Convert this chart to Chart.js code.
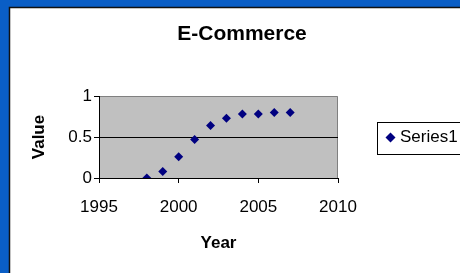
<!DOCTYPE html>
<html>
<head>
<meta charset="utf-8">
<title>E-Commerce</title>
<script src="https://cdn.jsdelivr.net/npm/chart.js@4/dist/chart.umd.min.js"></script>
<style>
    html, body { margin: 0; padding: 0; background: #0a5ec6; }
    #wrap { width: 460px; height: 273px; }
</style>
</head>
<body>
<div id="wrap"><canvas id="ecommerce-chart" width="460" height="273"></canvas></div>
<script>
'use strict';

var years = [1998, 1999, 2000, 2001, 2002, 2003, 2004, 2005, 2006, 2007];
var values = [0, 0.08, 0.26, 0.47, 0.64, 0.73, 0.78, 0.78, 0.80, 0.80];
var xTicks = [1995, 2000, 2005, 2010];
var yTicks = [0, 0.5, 1];
var seriesName = 'Series1';

var FONT = 'Liberation Sans, Arial, sans-serif';
var MARKER = '#000080';

// slide background + white chart box, gray plot area
var backdrop = {
    id: 'backdrop',
    beforeDraw: function (chart) {
        var ctx = chart.ctx;
        var a = chart.chartArea;
        ctx.save();
        ctx.fillStyle = '#0a5ec6';
        ctx.fillRect(0, 0, chart.width, chart.height);
        ctx.fillStyle = '#ffffff';
        ctx.fillRect(9, 7, chart.width, chart.height);
        ctx.strokeStyle = '#111111';
        ctx.lineWidth = 1.5;
        ctx.beginPath();
        ctx.moveTo(9.5, chart.height);
        ctx.lineTo(9.5, 7.5);
        ctx.lineTo(chart.width, 7.5);
        ctx.stroke();
        ctx.fillStyle = '#c0c0c0';
        ctx.fillRect(a.left, a.top, a.right - a.left, a.bottom - a.top);
        ctx.strokeStyle = '#808080';
        ctx.lineWidth = 1;
        ctx.beginPath();
        ctx.moveTo(a.left, a.top + 0.5);
        ctx.lineTo(a.right - 0.5, a.top + 0.5);
        ctx.lineTo(a.right - 0.5, a.bottom);
        ctx.stroke();
        ctx.restore();
    }
};

// excel style legend: boxed entry to the right of the plot
var boxLegend = {
    id: 'boxLegend',
    afterDraw: function (chart) {
        var ctx = chart.ctx;
        var a = chart.chartArea;
        var cy = (a.top + a.bottom) / 2 + 0.5;
        var ds = chart.data.datasets[0];
        ctx.save();
        ctx.fillStyle = '#ffffff';
        ctx.fillRect(377, cy - 16, 120, 32);
        ctx.strokeStyle = '#000000';
        ctx.lineWidth = 1;
        ctx.strokeRect(377.5, Math.round(cy - 16) + 0.5, 120, 32);
        ctx.fillStyle = MARKER;
        ctx.strokeStyle = MARKER;
        Chart.helpers.drawPoint(ctx, {pointStyle: 'rectRot', radius: 5, borderWidth: 0}, 390.5, cy);
        ctx.fillStyle = '#000000';
        ctx.font = '17px ' + FONT;
        ctx.textBaseline = 'middle';
        ctx.textAlign = 'left';
        ctx.fillText(ds.label, 400, cy);
        ctx.restore();
    }
};

var canvas = document.getElementById('ecommerce-chart');

var chart = new Chart(canvas, {
    type: 'scatter',
    data: {
        datasets: [{
            label: seriesName,
            data: years.map((y, i) => ({x: y, y: values[i]})),
            pointStyle: 'rectRot',
            pointRadius: 4.5,
            pointHoverRadius: 4.5,
            backgroundColor: MARKER,
            borderColor: MARKER,
            borderWidth: 0
        }]
    },
    options: {
        responsive: false,
        animation: false,
        layout: {
            padding: {left: 24, top: 0, right: 0, bottom: 0}
        },
        plugins: {
            title: {
                display: true,
                text: 'E-Commerce',
                color: '#000000',
                font: {family: FONT, size: 21, weight: 'bold'},
                padding: {top: 21.4, bottom: 49.4}
            },
            legend: {display: false},
            tooltip: {enabled: false}
        },
        scales: {
            x: {
                type: 'linear',
                min: 1995,
                max: 2010,
                afterFit: s => { s.height = 95; },
                afterBuildTicks: s => { s.ticks = xTicks.map(v => ({value: v})); },
                grid: {drawOnChartArea: false, drawTicks: true, tickLength: 5, tickColor: '#000000'},
                border: {display: true, color: '#000000', width: 1},
                ticks: {
                    padding: 14,
                    color: '#000000',
                    maxRotation: 0,
                    font: {family: FONT, size: 17},
                    callback: v => String(v)
                },
                title: {
                    display: true,
                    text: 'Year',
                    color: '#000000',
                    font: {family: FONT, size: 17, weight: 'bold'},
                    padding: {top: 0, bottom: 19.8}
                }
            },
            y: {
                type: 'linear',
                min: 0,
                max: 1,
                afterFit: s => { s.width = 75; },
                afterBuildTicks: s => { s.ticks = yTicks.map(v => ({value: v})); },
                grid: {
                    color: c => (c.tick && c.tick.value === 0.5 ? '#000000' : 'rgba(0,0,0,0)'),
                    tickColor: '#000000',
                    tickLength: 5
                },
                border: {display: true, color: '#000000', width: 1},
                ticks: {
                    padding: 2,
                    color: '#000000',
                    font: {family: FONT, size: 17},
                    callback: v => String(v)
                },
                title: {
                    display: true,
                    text: 'Value',
                    color: '#000000',
                    font: {family: FONT, size: 17, weight: 'bold'},
                    padding: {top: 4.8, bottom: 0}
                }
            },
            // empty right-hand axis: keeps room for the legend box
            legendRoom: {
                type: 'linear',
                position: 'right',
                display: true,
                afterFit: s => { s.width = 122; },
                grid: {display: false},
                border: {display: false},
                ticks: {display: false}
            }
        }
    },
    plugins: [backdrop, boxLegend]
});
</script>
</body>
</html>
